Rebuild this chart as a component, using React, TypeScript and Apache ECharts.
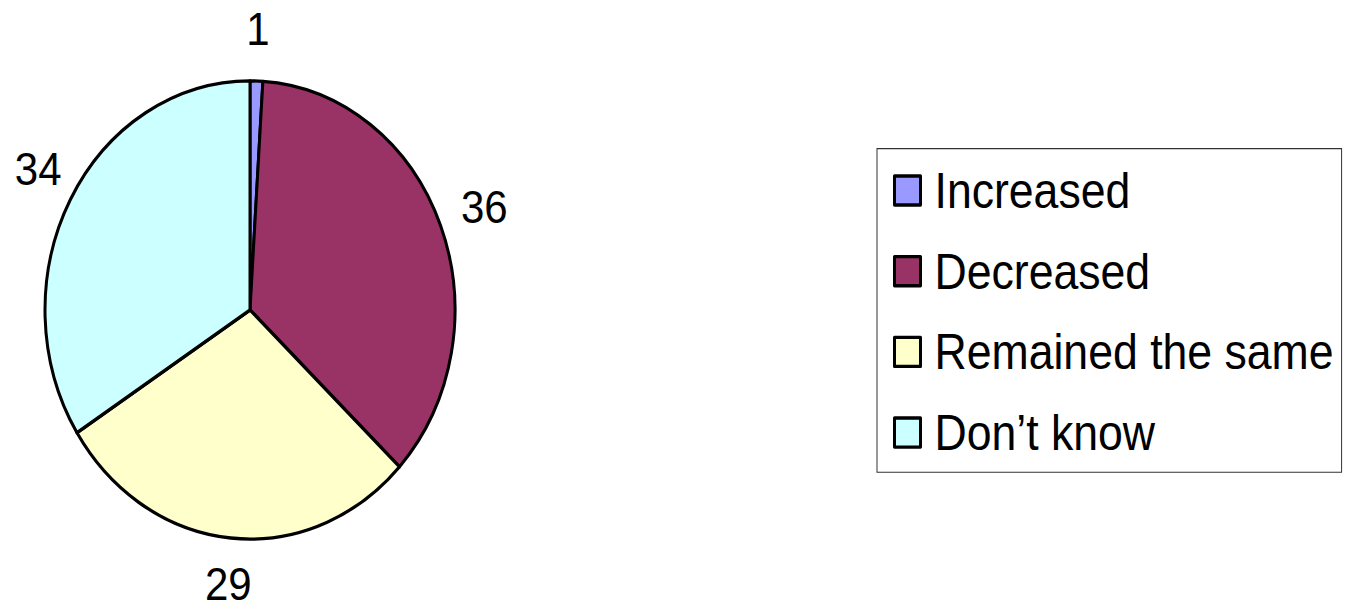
import React, { useEffect, useRef } from "react";
import * as echarts from "echarts";

const categories = ["Increased", "Decreased", "Remained the same", "Don\u2019t know"];
const values = [1, 36, 29, 34];
const colors = ["#9999FF", "#993366", "#FFFFCC", "#CCFFFF"];
const labelNudges: number[][] = [[0, 0], [0, 0], [2, -6], [9, -5]];

const W = 1348;
const H = 545;
const SY = 609 / H;
const FONT = "'Liberation Sans', Arial, sans-serif";

export default function App() {
  const ref = useRef<HTMLDivElement>(null);
  useEffect(() => {
    if (!ref.current) return;
    const chart = echarts.init(ref.current, undefined, { renderer: "svg", width: W, height: H });
    const data = categories.map((name, i) => ({ name, value: values[i], itemStyle: { color: colors[i] } }));
    chart.setOption({
      animation: false,
      backgroundColor: "#ffffff",
      legend: {
        orient: "vertical",
        left: 877,
        top: 133,
        data: categories,
        icon: "rect",
        itemWidth: 26,
        itemHeight: 26,
        itemGap: 27.2,
        padding: [15, 8, 13, 16],
        borderColor: "#333333",
        borderWidth: 1,
        backgroundColor: "#ffffff",
        itemStyle: { borderColor: "#000000", borderWidth: 3 },
        textStyle: {
          fontFamily: FONT,
          fontSize: 44.6,
          lineHeight: 44,
          color: "#000000",
          padding: [0, 0, 0, 9],
        },
        selectedMode: false,
      },
      series: [
        {
          type: "pie",
          center: [250, 277.4],
          radius: 205,
          startAngle: 90,
          clockwise: true,
          data,
          label: { show: false },
          labelLine: { show: false },
          itemStyle: { borderColor: "#000000", borderWidth: 3 },
          emphasis: { disabled: true },
          silent: true,
        },
        {
          type: "pie",
          center: [250, 277.4],
          radius: [241, 257],
          startAngle: 90,
          clockwise: true,
          data: categories.map((name, i) => ({
            name,
            value: values[i],
            itemStyle: { color: "transparent" },
            label: { offset: labelNudges[i] },
          })),
          label: {
            show: true,
            position: "inside",
            formatter: "{c}",
            fontFamily: FONT,
            fontSize: 42,
            lineHeight: 40,
            color: "#000000",
          },
          labelLine: { show: false },
          itemStyle: { borderWidth: 0, color: "transparent" },
          emphasis: { disabled: true },
          silent: true,
        },
      ],
    });
    return () => chart.dispose();
  }, []);
  return (
    <div
      ref={ref}
      style={{
        position: "absolute",
        left: 0,
        top: 0,
        width: W,
        height: H,
        transform: `scaleY(${SY})`,
        transformOrigin: "0 0",
      }}
    />
  );
}
